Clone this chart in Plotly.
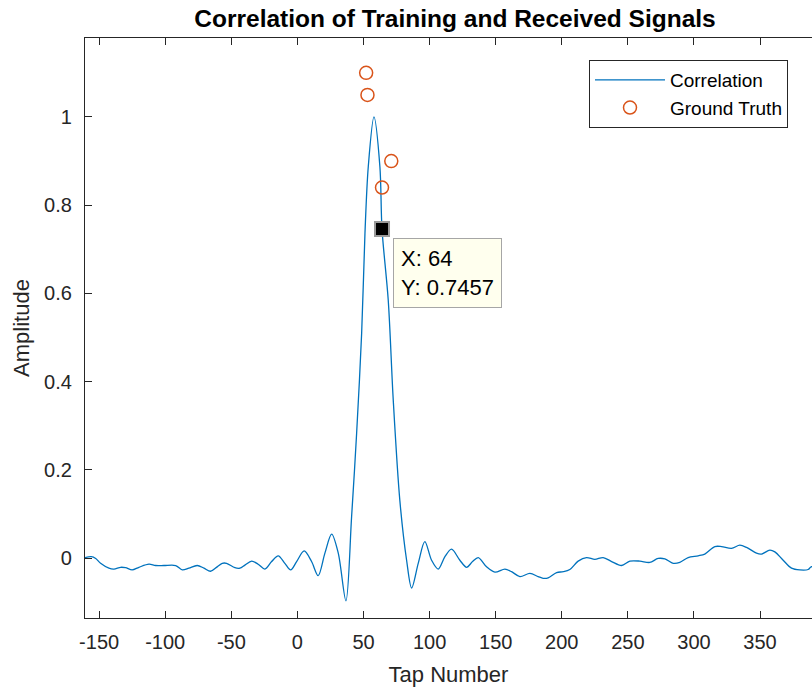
import plotly.graph_objects as go

# ---- data ----
tap = [-160.7, -156.0, -152.6, -148.9, -142.6, -138.8, -133.7, -130.0, -125.0, -119.9,
       -112.3, -107.3, -101.0, -92.1, -87.1, -82.1, -75.8, -70.7, -65.7, -60.7,
       -56.9, -53.6, -47.3, -43.5, -39.7, -34.6, -29.7, -24.6, -19.5, -14.5,
       -9.5, -5.1, -0.6, 5.1, 10.7, 15.7, 20.8, 25.9, 30.9, 36.7,
       41.0, 44.8, 48.6, 51.1, 53.6, 57.9, 62.4, 64.0, 68.7, 72.5,
       77.5, 82.6, 86.4, 91.4, 96.4, 101.5, 106.5, 111.6, 116.6, 122.9,
       128.0, 132.5, 136.8, 143.1, 149.4, 157.0, 162.0, 168.3, 175.9, 182.1,
       185.9, 189.7, 196.1, 201.1, 206.1, 212.4, 218.7, 225.0, 231.3, 237.7,
       245.2, 251.5, 259.1, 266.6, 272.9, 278.0, 284.3, 289.3, 295.6, 303.2,
       308.2, 315.8, 320.9, 328.4, 334.7, 339.8, 347.3, 351.1, 357.4, 361.2,
       367.5, 373.8, 380.1, 386.4, 388.2, 392.0]
amplitude = [0.001, 0.003, -0.001, -0.012, -0.023, -0.025, -0.021, -0.022, -0.027, -0.021,
             -0.014, -0.017, -0.017, -0.017, -0.027, -0.023, -0.017, -0.023, -0.030, -0.020,
             -0.012, -0.012, -0.022, -0.023, -0.016, -0.007, -0.014, -0.025, -0.008, 0.005,
             -0.012, -0.027, -0.008, 0.016, -0.008, -0.040, 0.011, 0.054, 0.011, -0.097,
             0.094, 0.283, 0.510, 0.736, 0.887, 1.000, 0.887, 0.7457, 0.585, 0.358,
             0.130, -0.005, -0.068, -0.012, 0.037, -0.005, -0.025, 0.003, 0.020, -0.005,
             -0.021, -0.008, 0.001, -0.020, -0.032, -0.025, -0.031, -0.042, -0.035, -0.042,
             -0.046, -0.045, -0.033, -0.031, -0.026, -0.007, 0.001, -0.003, 0.001, -0.008,
             -0.017, -0.007, -0.007, -0.010, -0.001, -0.002, -0.012, -0.010, 0.001, 0.005,
             0.009, 0.026, 0.026, 0.022, 0.029, 0.024, 0.011, 0.009, 0.018, 0.014,
             -0.005, -0.023, -0.027, -0.026, -0.021, -0.015]

truth_tap = [52, 53, 64, 71]
truth_amp = [1.10, 1.05, 0.84, 0.90]

tip_x = [64]
tip_y = [0.7457]

x_tickvals = [-150, -100, -50, 0, 50, 100, 150, 200, 250, 300, 350]
x_ticktext = ["-150", "-100", "-50", "0", "50", "100", "150", "200", "250", "300", "350"]
y_tickvals = [0, 0.2, 0.4, 0.6, 0.8, 1]
y_ticktext = ["0", "0.2", "0.4", "0.6", "0.8", "1"]

FONT = "Liberation Sans, Arial, Helvetica, sans-serif"
AX = "#262626"

fig = go.Figure()
fig.add_trace(go.Scatter(
    x=tap, y=amplitude, mode="lines", name="Correlation",
    line=dict(color="#0072BD", width=1.3, shape="spline", smoothing=0.9),
))
fig.add_trace(go.Scatter(
    x=truth_tap, y=truth_amp, mode="markers", name="Ground Truth",
    marker=dict(symbol="circle-open", size=13, color="#D95319", line=dict(width=1.5, color="#D95319")),
))
fig.add_trace(go.Scatter(
    x=tip_x, y=tip_y, mode="markers", showlegend=False,
    marker=dict(symbol="square", size=14, color="black", line=dict(width=2, color="#9A9A9A")),
))

fig.add_annotation(
    x=tip_x[0], y=tip_y[0], xref="x", yref="y",
    text=f"X: {tip_x[0]}<br>Y: {tip_y[0]}",
    showarrow=False, xanchor="left", yanchor="top", align="left",
    xshift=11, yshift=-9,
    font=dict(family=FONT, size=22, color="black"),
    bgcolor="#FFFFEE", bordercolor="#A6A6A6", borderwidth=1, borderpad=7,
)

fig.update_layout(
    width=812, height=691,
    margin=dict(l=85, r=0, t=38, b=73),
    paper_bgcolor="white", plot_bgcolor="white",
    font=dict(family=FONT, color=AX),
    title=dict(text="<b>Correlation of Training and Received Signals</b>",
               x=455/812, xref="container", xanchor="center",
               y=1-18/691, yref="container", yanchor="middle",
               font=dict(family=FONT, size=24.5, color="black")),
    legend=dict(x=(589-85)/727, y=(618-60)/580, xanchor="left", yanchor="top",
                bgcolor="white", bordercolor=AX, borderwidth=1,
                font=dict(family=FONT, size=19, color="black"),
                itemwidth=70, tracegroupgap=0),
    showlegend=True,
)
fig.update_xaxes(
    range=[-160.7, 389.3], tickvals=x_tickvals, ticktext=x_ticktext,
    showline=True, linecolor=AX, linewidth=1.3, mirror="ticks",
    ticks="inside", ticklen=7, tickcolor=AX, tickwidth=1.3,
    showgrid=False, zeroline=False,
    tickfont=dict(family=FONT, size=20, color=AX), ticklabelstandoff=6,
    title=dict(text="Tap Number", font=dict(family=FONT, size=22, color=AX), standoff=14),
)
fig.update_yaxes(
    range=[-0.136, 1.179], tickvals=y_tickvals, ticktext=y_ticktext,
    showline=True, linecolor=AX, linewidth=1.3, mirror=False,
    ticks="inside", ticklen=7, tickcolor=AX, tickwidth=1.3,
    showgrid=False, zeroline=False,
    tickfont=dict(family=FONT, size=20, color=AX), ticklabelstandoff=8,
    title=dict(text="Amplitude", font=dict(family=FONT, size=22, color=AX), standoff=8),
)

fig.write_html("out.html")
